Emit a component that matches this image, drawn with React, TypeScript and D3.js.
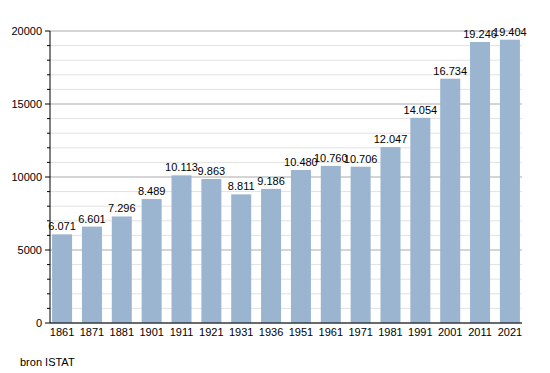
import React from "react";
import * as d3 from "d3";

const years = ["1861", "1871", "1881", "1901", "1911", "1921", "1931", "1936", "1951", "1961", "1971", "1981", "1991", "2001", "2011", "2021"];
const population = [6071, 6601, 7296, 8489, 10113, 9863, 8811, 9186, 10480, 10760, 10706, 12047, 14054, 16734, 19246, 19404];
const majorTicks = [0, 5000, 10000, 15000, 20000];
const source = "bron ISTAT";

const fmt = (v: number) => d3.format(",")(v).replace(/,/g, ".");

const App = () => {
  const left = 50;
  const right = 522;
  const top = 31;
  const bottom = 323;

  const x = d3.scaleBand<string>().domain(years).range([left, right]).paddingInner(0.33).paddingOuter(0.07);
  const y = d3.scaleLinear().domain([0, 20000]).range([bottom, top]);
  const minor = d3.range(0, 20001, 1000).filter((v) => v % 5000 !== 0);

  return (
    <svg width={550} height={373} style={{ position: "absolute", left: 0, top: 0 }} fontFamily="Liberation Sans, Arial, sans-serif">
      <rect width={550} height={373} fill="#fff" />
      {minor.map((v) => (
        <g key={"m" + v}>
          <line x1={left} x2={right} y1={y(v)} y2={y(v)} stroke="#e2e2e2" />
          <line x1={left - 3} x2={left} y1={y(v)} y2={y(v)} stroke="#000" />
        </g>
      ))}
      {majorTicks.map((v) => (
        <g key={"M" + v}>
          <line x1={left} x2={right} y1={y(v)} y2={y(v)} stroke="#aaa" />
          <line x1={left - 5} x2={left} y1={y(v)} y2={y(v)} stroke="#000" />
          <text x={left - 8} y={y(v) + 4} textAnchor="end" fontSize={11} fill="#000">{v}</text>
        </g>
      ))}
      {years.map((yr, i) => (
        <g key={yr}>
          <rect x={x(yr)} y={y(population[i])} width={x.bandwidth()} height={bottom - y(population[i])} fill="#9bb4cf" />
          <text x={(x(yr) ?? 0) + x.bandwidth() / 2} y={y(population[i]) - 4} textAnchor="middle" fontSize={11} fill="#000">{fmt(population[i])}</text>
          <text x={(x(yr) ?? 0) + x.bandwidth() / 2} y={bottom + 13} textAnchor="middle" fontSize={11} fill="#000">{yr}</text>
        </g>
      ))}
      <line x1={left} x2={left} y1={top} y2={bottom} stroke="#000" />
      <line x1={left} x2={right} y1={bottom} y2={bottom} stroke="#000" />
      <text x={20} y={366} fontSize={11} fill="#000">{source}</text>
    </svg>
  );
};

export default App;
